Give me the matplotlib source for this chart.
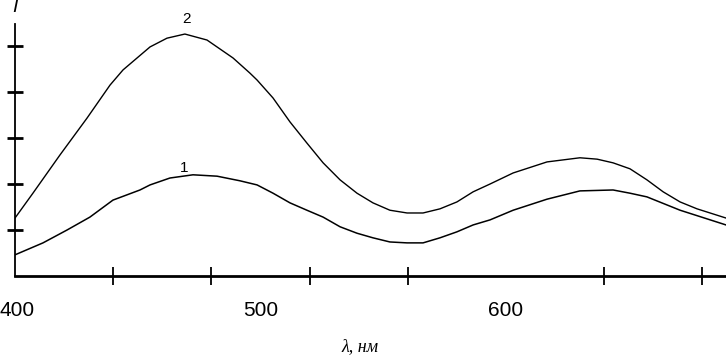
import numpy as np
import matplotlib
matplotlib.use('Agg')
import matplotlib.pyplot as plt
import matplotlib.transforms as mtransforms

# Spectra (wavelength nm, intensity in tick units)
wl_2 = [400, 407.3, 418.3, 429.3, 438.7, 444.0, 455.0, 461.9, 469.2, 478.2,
        488.8, 495.7, 498.6, 505.1, 512.0, 518.9, 525.5, 532.4, 539.3, 545.8,
        552.7, 559.7, 566.2, 573.1, 580.0, 586.6, 593.5, 602.9, 616.7, 630.1,
        637.1, 643.6, 650.5, 657.4, 664.0, 670.9, 677.8, 689.6]
int_2 = [1.26, 1.80, 2.63, 3.43, 4.15, 4.48, 4.98, 5.17, 5.26, 5.13,
         4.74, 4.41, 4.26, 3.87, 3.35, 2.89, 2.46, 2.09, 1.80, 1.59,
         1.43, 1.37, 1.37, 1.46, 1.61, 1.83, 2.00, 2.24, 2.48, 2.57,
         2.54, 2.46, 2.33, 2.09, 1.83, 1.61, 1.46, 1.26]

wl_1 = [400, 411.4, 421.2, 430.5, 439.9, 450.9, 455.0, 463.1, 472.5, 482.3,
        491.6, 498.6, 505.1, 512.0, 518.9, 525.5, 532.4, 539.3, 545.8, 552.7,
        559.7, 566.2, 573.1, 580.0, 586.6, 593.5, 602.9, 616.7, 630.1, 643.6,
        650.5, 657.4, 670.9, 689.6]
int_1 = [0.46, 0.72, 1.00, 1.28, 1.65, 1.87, 1.98, 2.13, 2.20, 2.17,
         2.07, 1.98, 1.80, 1.59, 1.43, 1.28, 1.07, 0.93, 0.83, 0.74,
         0.72, 0.72, 0.83, 0.96, 1.11, 1.22, 1.43, 1.67, 1.85, 1.87,
         1.80, 1.72, 1.43, 1.11]

label_ticks = [400, 500, 600]
minor_ticks = [400, 440, 480, 520, 560, 600, 640, 680]
y_ticks = [1, 2, 3, 4, 5]

plt.rcParams['font.family'] = ['Liberation Sans', 'DejaVu Sans']

fig = plt.figure(figsize=(7.26, 3.55), dpi=100)
ax = fig.add_axes([15 / 726, 79 / 355, 1 - 15 / 726, 252 / 355])

ax.plot(wl_2, int_2, color='black', lw=1.0, solid_joinstyle='round')
ax.plot(wl_1, int_1, color='black', lw=1.1, solid_joinstyle='round')

ax.set_xlim(400, 689.6)
ax.set_ylim(0, 252 / 46)

for s in ['top', 'right']:
    ax.spines[s].set_visible(False)
ax.spines['bottom'].set_linewidth(2.0)
ax.spines['left'].set_linewidth(1.3)

ax.set_xticks(label_ticks)
ax.set_xticklabels([str(t) for t in label_ticks], fontsize=15)
ax.set_xticks(minor_ticks, minor=True)
ax.tick_params(axis='x', which='major', length=0, pad=18)
ax.tick_params(axis='x', which='minor', direction='inout', length=13, width=1.3)

# первая подпись чуть правее, чтобы не обрезалась у края
lbl = ax.get_xticklabels()[0]
lbl.set_transform(lbl.get_transform() +
                  mtransforms.ScaledTranslation(2 / 100, 0, fig.dpi_scale_trans))

ax.set_yticks(y_ticks)
ax.set_yticklabels([])
ax.tick_params(axis='y', direction='inout', length=12, width=2.0)

ax.text(470, 5.43, '2', ha='center', va='bottom', fontsize=11, clip_on=False)
ax.text(469, 2.2, '1', ha='center', va='bottom', fontsize=11)

fig.text(15 / 726, 1 - 8 / 355, 'I', ha='center', va='center',
         fontsize=14, style='italic')
fig.text(360 / 726, 1 - 347 / 355, 'λ, нм', ha='center', va='center',
         fontsize=13, style='italic', family=['Liberation Serif', 'DejaVu Serif'])

fig.savefig('out.png', dpi=100, facecolor='white')
